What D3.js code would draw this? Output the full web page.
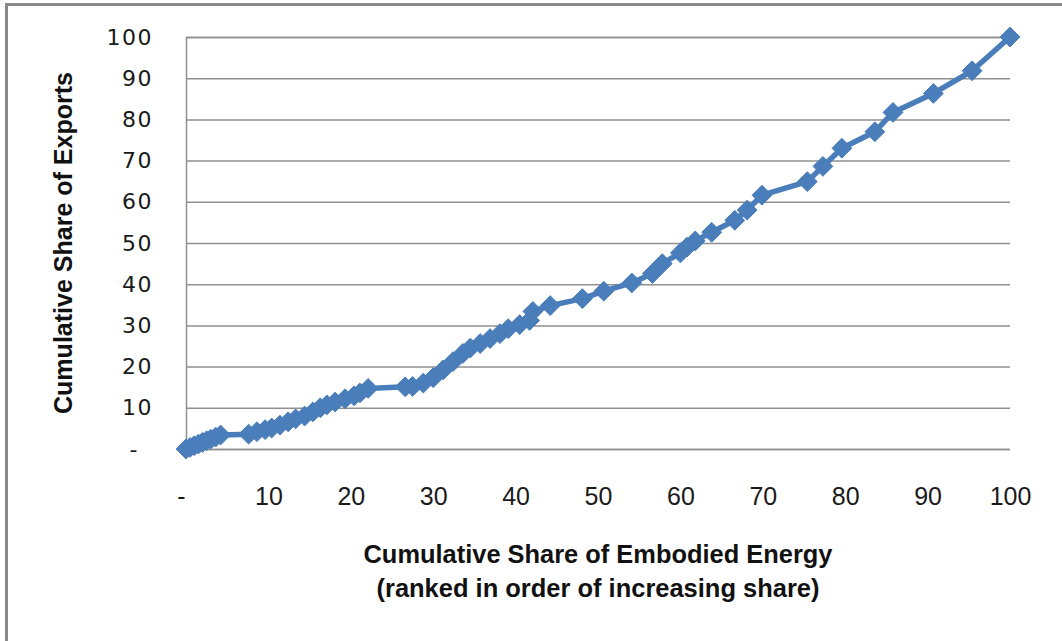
<!DOCTYPE html>
<html>
<head>
<meta charset="utf-8">
<script src="https://cdn.jsdelivr.net/npm/d3@7"></script>
<style>
  html, body { margin: 0; padding: 0; background: #ffffff; }
  svg { display: block; }
</style>
</head>
<body>
<svg id="chart" width="1062" height="641"></svg>
<script>
// Cumulative share of embodied energy (x, %) vs cumulative share of exports (y, %)
const energyShare = [0, 0.5, 1, 1.5, 2, 2.5, 3, 3.6, 4.2, 7.6, 8.6, 9.6, 10.4, 11.4, 12.4, 13.3, 14.4, 15.4, 16.3, 17.1, 18.1, 19.3, 20.4, 21.1, 22.1, 26.6, 27.5, 28.8, 30.0, 31.2, 32.4, 33.6, 34.5, 35.7, 36.9, 38.1, 39.1, 40.5, 41.7, 42.1, 44.2, 48.1, 50.7, 54.1, 56.6, 57.8, 60.0, 60.8, 61.8, 63.8, 66.6, 68.1, 69.9, 75.4, 77.3, 79.6, 83.6, 85.8, 90.7, 95.4, 100];
const exportShare = [0, 0.4, 0.8, 1.2, 1.6, 2.0, 2.4, 2.9, 3.4, 3.6, 4.2, 4.7, 5.1, 5.8, 6.6, 7.3, 8.0, 9.0, 10.0, 10.7, 11.4, 12.2, 12.9, 13.6, 14.7, 15.1, 15.2, 16.0, 17.3, 19.2, 21.2, 23.2, 24.5, 25.6, 26.8, 28.0, 29.2, 30.2, 31.2, 33.4, 34.8, 36.5, 38.3, 40.3, 42.6, 45.0, 47.6, 49.0, 50.5, 52.6, 55.5, 58.0, 61.6, 64.9, 68.6, 73.0, 77.0, 81.7, 86.3, 91.8, 100];

const xTicks = [0, 10, 20, 30, 40, 50, 60, 70, 80, 90, 100];
const yTicks = [0, 10, 20, 30, 40, 50, 60, 70, 80, 90, 100];
const xTitleLines = ["Cumulative Share of Embodied Energy", "(ranked in order of increasing share)"];
const yTitle = "Cumulative Share of Exports";

const points = energyShare.map((e, i) => ({ x: e, y: exportShare[i] }));

const svg = d3.select("#chart");
const blue = "#4a7ebb";
const gridColor = "#8f8f8f";

const x = d3.scaleLinear().domain([0, 100]).range([186, 1010]);
const y = d3.scaleLinear().domain([0, 100]).range([449, 37]);

// zero values shown as a dash, accounting style
const fmt = v => v === 0 ? "-" : String(v);

// outer chart frame (right and bottom edges fall outside the view)
svg.append("rect")
  .attr("x", 6.5).attr("y", 4.5)
  .attr("width", 1200).attr("height", 800)
  .attr("fill", "none")
  .attr("stroke", "#8a8a8a")
  .attr("stroke-width", 3);

// horizontal gridlines with value labels
const yAxis = d3.axisLeft(y).tickValues(yTicks).tickSize(-(x(100) - x(0))).tickFormat(fmt).tickPadding(33);
const gy = svg.append("g").attr("transform", `translate(${x(0)},0)`).call(yAxis);
gy.select(".domain").attr("stroke", gridColor).attr("stroke-width", 1.5);
gy.selectAll(".tick line").attr("stroke", gridColor).attr("stroke-width", 1.5);
gy.selectAll(".tick text")
  .attr("fill", "#1a1a1a")
  .attr("dx", d => d === 0 ? -14 : 0)
  .style("font-family", "'DejaVu Sans', sans-serif")
  .style("font-size", "22px")
  .style("letter-spacing", "1.5px");

// x axis labels only (no axis line of its own)
const xAxis = d3.axisBottom(x).tickValues(xTicks).tickSize(0).tickFormat(fmt).tickPadding(38);
const gx = svg.append("g").attr("transform", `translate(0,${y(0)})`).call(xAxis);
gx.select(".domain").remove();
gx.selectAll(".tick text")
  .attr("fill", "#1a1a1a")
  .attr("dx", d => d === 0 ? -5 : 0)
  .style("font-family", "'Liberation Sans Narrow', 'Liberation Sans', sans-serif")
  .style("font-size", "25px");

// axis titles
svg.append("text")
  .attr("transform", `translate(72,${(y(0) + y(100)) / 2}) rotate(-90)`)
  .attr("text-anchor", "middle")
  .attr("textLength", 342)
  .attr("lengthAdjust", "spacingAndGlyphs")
  .style("font-family", "'Liberation Sans Narrow', 'Liberation Sans', sans-serif")
  .style("font-weight", "bold")
  .style("font-size", "25px")
  .attr("fill", "#111")
  .text(yTitle);

const xTitleWidths = [469, 443];
svg.selectAll(".xtitle").data(xTitleLines).enter().append("text")
  .attr("class", "xtitle")
  .attr("x", (x(0) + x(100)) / 2)
  .attr("y", (d, i) => 563 + i * 34)
  .attr("text-anchor", "middle")
  .attr("textLength", (d, i) => xTitleWidths[i])
  .attr("lengthAdjust", "spacingAndGlyphs")
  .style("font-family", "'Liberation Sans Narrow', 'Liberation Sans', sans-serif")
  .style("font-weight", "bold")
  .style("font-size", "25px")
  .attr("fill", "#111")
  .text(d => d);

// series line
const line = d3.line().x(d => x(d.x)).y(d => y(d.y));
svg.append("path")
  .datum(points)
  .attr("d", line)
  .attr("fill", "none")
  .attr("stroke", blue)
  .attr("stroke-width", 5.5)
  .attr("stroke-linejoin", "round");

// diamond markers
const diamond = d3.symbol().type(d3.symbolDiamond2).size(250);
svg.selectAll(".marker").data(points).enter().append("path")
  .attr("class", "marker")
  .attr("transform", d => `translate(${x(d.x)},${y(d.y)})`)
  .attr("d", diamond)
  .attr("fill", blue)
  .attr("stroke", blue)
  .attr("stroke-width", 1);
</script>
</body>
</html>
